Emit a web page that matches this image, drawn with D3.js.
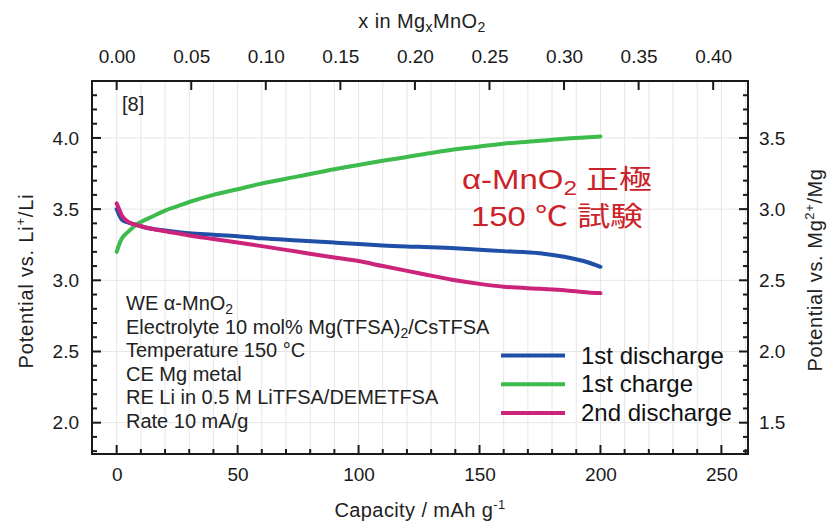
<!DOCTYPE html>
<html>
<head>
<meta charset="utf-8">
<script src="https://cdn.jsdelivr.net/npm/d3@7"></script>
<style>
  html, body { margin: 0; padding: 0; background: #fff; }
  svg { display: block; font-family: "Liberation Sans", Arial, sans-serif; }
</style>
</head>
<body>
<svg id="chart" width="828" height="522"></svg>
<script>
// Capacity (mAh/g) sample points shared by the three curves
const capacity = [0, 1, 2, 4, 6, 8, 10, 15, 20, 25, 30, 40, 50, 60, 75, 90, 100, 110, 125, 140, 150, 160, 175, 185, 195, 200];

// Potential vs. Li+/Li (V)
const discharge1 = [3.50, 3.46, 3.43, 3.41, 3.40, 3.39, 3.38, 3.36, 3.35, 3.34, 3.33, 3.32, 3.31, 3.295, 3.28, 3.265, 3.255, 3.245, 3.235, 3.225, 3.215, 3.205, 3.19, 3.165, 3.125, 3.095];
const charge1    = [3.20, 3.25, 3.29, 3.33, 3.36, 3.39, 3.41, 3.45, 3.49, 3.52, 3.55, 3.60, 3.64, 3.68, 3.73, 3.78, 3.81, 3.84, 3.88, 3.92, 3.94, 3.96, 3.98, 3.995, 4.005, 4.01];
const discharge2 = [3.54, 3.50, 3.46, 3.42, 3.40, 3.39, 3.38, 3.36, 3.345, 3.33, 3.315, 3.29, 3.265, 3.24, 3.20, 3.16, 3.135, 3.10, 3.05, 3.00, 2.975, 2.955, 2.94, 2.93, 2.915, 2.91];

const seriesNames  = ["1st discharge", "1st charge", "2nd discharge"];
const seriesColors = ["#1f4fa6", "#3dbb4c", "#cc237b"];
const seriesValues = [discharge1, charge1, discharge2];

const capTicks   = [0, 50, 100, 150, 200, 250];
const xMgTicks   = [0.00, 0.05, 0.10, 0.15, 0.20, 0.25, 0.30, 0.35, 0.40];
const liTicks    = [2.0, 2.5, 3.0, 3.5, 4.0];
const mgTicks    = [1.5, 2.0, 2.5, 3.0, 3.5];
const mgOffset   = 0.5;            // Mg2+/Mg scale sits 0.5 V below Li+/Li
const capPerX    = 616.5;          // mAh/g per unit x in MgxMnO2

const conditions = [
  ["WE α-MnO", "2", ""],
  ["Electrolyte 10 mol% Mg(TFSA)", "2", "/CsTFSA"],
  ["Temperature 150 °C", "", ""],
  ["CE Mg metal", "", ""],
  ["RE Li in 0.5 M LiTFSA/DEMETFSA", "", ""],
  ["Rate 10 mA/g", "", ""]
];

const svg = d3.select("#chart");
const m = { left: 92, right: 748, top: 81, bottom: 454 };

const x = d3.scaleLinear().domain([-10.2, 261]).range([m.left, m.right]);
const y = d3.scaleLinear().domain([1.78, 4.4]).range([m.bottom, m.top]);
const xTop = d3.scaleLinear().domain([x.domain()[0] / capPerX, x.domain()[1] / capPerX]).range([m.left, m.right]);
const yMg = d3.scaleLinear().domain([y.domain()[0] - mgOffset, y.domain()[1] - mgOffset]).range([m.bottom, m.top]);

const ink = "#1a1a1a";

// grid
const grid = svg.append("g");
grid.selectAll("line.v").data(d3.range(0, 261, 10)).join("line")
  .attr("x1", d => x(d)).attr("x2", d => x(d))
  .attr("y1", m.top).attr("y2", m.bottom)
  .attr("stroke", "#e6e6e6").attr("stroke-width", 1);
grid.selectAll("line.h").data(liTicks).join("line")
  .attr("y1", d => y(d)).attr("y2", d => y(d))
  .attr("x1", m.left).attr("x2", m.right)
  .attr("stroke", "#e6e6e6").attr("stroke-width", 1);

// curves
const line = d3.line().x((d, i) => x(capacity[i])).y(d => y(d)).curve(d3.curveMonotoneX);
seriesValues.forEach((vals, k) => {
  svg.append("path").datum(vals)
    .attr("d", line)
    .attr("fill", "none")
    .attr("stroke", seriesColors[k])
    .attr("stroke-width", 4)
    .attr("stroke-linecap", "round")
    .attr("stroke-linejoin", "round");
});

// frame
svg.append("rect")
  .attr("x", m.left).attr("y", m.top)
  .attr("width", m.right - m.left).attr("height", m.bottom - m.top)
  .attr("fill", "none").attr("stroke", ink).attr("stroke-width", 2);

// inward tick marks, as thin filled bars
const minorCap = d3.range(0, 261, 10).filter(d => d % 50 !== 0);
const minorLi = d3.range(18, 44).map(d => d / 10).filter(d => Math.round(d * 10) % 5 !== 0);
const tickLayer = svg.append("g");
function vTicks(vals, scale, y0, len) {
  tickLayer.append("g").selectAll("rect").data(vals).join("rect")
    .attr("x", d => scale(d) - 1).attr("width", 2)
    .attr("y", len < 0 ? y0 + len : y0).attr("height", Math.abs(len))
    .attr("fill", ink);
}
function hTicks(vals, scale, x0, len) {
  tickLayer.append("g").selectAll("rect").data(vals).join("rect")
    .attr("y", d => scale(d) - 1).attr("height", 2)
    .attr("x", len < 0 ? x0 + len : x0).attr("width", Math.abs(len))
    .attr("fill", ink);
}
vTicks(capTicks, x, m.bottom, -9);
vTicks(minorCap, x, m.bottom, -5);
vTicks(xMgTicks, xTop, m.top, 9);
hTicks(liTicks, y, m.left, 9);
hTicks(minorLi, y, m.left, 5);
hTicks(mgTicks, yMg, m.right, -9);
hTicks(minorLi.map(d => d - mgOffset), yMg, m.right, -5);

// tick labels through d3 axes
function labelsOnly(g) {
  g.select(".domain").remove();
  g.selectAll(".tick line").remove();
  g.selectAll(".tick text").attr("fill", ink).attr("font-size", 19)
    .attr("font-family", "Liberation Sans, Arial, sans-serif");
}
svg.append("g").attr("transform", `translate(0,${m.bottom})`)
  .call(d3.axisBottom(x).tickValues(capTicks).tickSize(0).tickPadding(14).tickFormat(d3.format("d")))
  .call(labelsOnly);
svg.append("g").attr("transform", `translate(0,${m.top})`)
  .call(d3.axisTop(xTop).tickValues(xMgTicks).tickSize(0).tickPadding(18).tickFormat(d3.format(".2f")))
  .call(labelsOnly);
svg.append("g").attr("transform", `translate(${m.left},0)`)
  .call(d3.axisLeft(y).tickValues(liTicks).tickSize(0).tickPadding(13).tickFormat(d3.format(".1f")))
  .call(labelsOnly);
svg.append("g").attr("transform", `translate(${m.right},0)`)
  .call(d3.axisRight(yMg).tickValues(mgTicks).tickSize(0).tickPadding(11).tickFormat(d3.format(".1f")))
  .call(labelsOnly);

// axis titles
const txt = "#222";
const topTitle = svg.append("text").attr("x", 422).attr("y", 28).attr("text-anchor", "middle")
  .attr("font-size", 20).attr("fill", txt).attr("letter-spacing", 0.4);
topTitle.append("tspan").text("x in Mg");
topTitle.append("tspan").attr("font-size", 14).attr("dy", 4).text("x");
topTitle.append("tspan").attr("dy", -4).text("MnO");
topTitle.append("tspan").attr("font-size", 14).attr("dy", 4).text("2");

const botTitle = svg.append("text").attr("x", 420).attr("y", 517).attr("text-anchor", "middle")
  .attr("font-size", 20).attr("fill", txt).attr("letter-spacing", 0.4);
botTitle.append("tspan").text("Capacity / mAh g");
botTitle.append("tspan").attr("font-size", 13).attr("dy", -8).text("-1");

const leftTitle = svg.append("text").attr("transform", "translate(33,281) rotate(-90)")
  .attr("text-anchor", "middle").attr("font-size", 20).attr("fill", txt).attr("letter-spacing", 0.8);
leftTitle.append("tspan").text("Potential vs. Li");
leftTitle.append("tspan").attr("font-size", 13).attr("dy", -8).text("+");
leftTitle.append("tspan").attr("dy", 8).text("/Li");

const rightTitle = svg.append("text").attr("transform", "translate(822,270) rotate(-90)")
  .attr("text-anchor", "middle").attr("font-size", 20).attr("fill", txt).attr("letter-spacing", 0.6);
rightTitle.append("tspan").text("Potential vs. Mg");
rightTitle.append("tspan").attr("font-size", 13).attr("dy", -8).text("2+");
rightTitle.append("tspan").attr("dy", 8).text("/Mg");

// reference number
svg.append("text").attr("x", 122).attr("y", 111).attr("font-size", 20).attr("fill", txt).text("[8]");

// experimental conditions
conditions.forEach((c, i) => {
  const t = svg.append("text").attr("x", 126).attr("y", 310 + i * 23.6)
    .attr("font-size", 20).attr("fill", txt);
  t.append("tspan").text(c[0]);
  if (c[1]) t.append("tspan").attr("font-size", 14).attr("dy", 4).text(c[1]);
  if (c[2]) t.append("tspan").attr("dy", -4).text(c[2]);
});

// legend
seriesNames.forEach((name, k) => {
  const yy = 355.5 + k * 28.7;
  svg.append("line").attr("x1", 501).attr("x2", 565).attr("y1", yy).attr("y2", yy)
    .attr("stroke", seriesColors[k]).attr("stroke-width", 4);
  svg.append("text").attr("x", 581).attr("y", yy + 8).attr("font-size", 24)
    .attr("fill", "#111").text(name);
});

// annotation (slightly widened lettering)
const red = "#cc2229";
const ann = svg.append("g").attr("transform", "translate(557,0) scale(1.22,1)")
  .attr("font-family", "Liberation Sans, 'Noto Sans CJK JP', sans-serif")
  .attr("fill", red).attr("text-anchor", "middle");
const ann1 = ann.append("text").attr("x", 0).attr("y", 189).attr("font-size", 27);
ann1.append("tspan").text("α-MnO");
ann1.append("tspan").attr("font-size", 20).attr("dy", 6).text("2");
ann1.append("tspan").attr("dy", -6).text(" 正極");
ann.append("text").attr("x", 0).attr("y", 226).attr("font-size", 27).text("150 ℃ 試験");
</script>
</body>
</html>
